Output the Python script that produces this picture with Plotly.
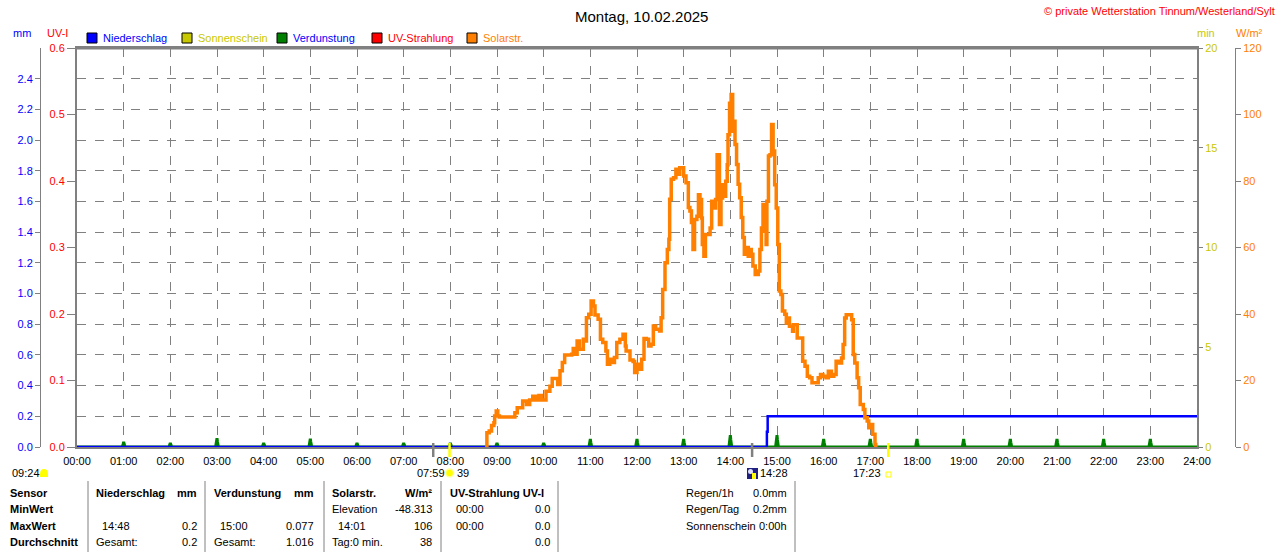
import plotly.graph_objects as go

# ---------------- data: Montag, 10.02.2025 ----------------
solar_time = ["08:46", "08:47", "08:50", "08:53", "08:56", "08:57", "08:59", "09:01", "09:03", "09:21",
              "09:23", "09:26", "09:31", "09:33", "09:38", "09:42", "09:46", "09:50", "09:54", "09:57",
              "10:01", "10:03", "10:08", "10:11", "10:15", "10:18", "10:21", "10:24", "10:27", "10:36",
              "10:38", "10:42", "10:43", "10:46", "10:51", "10:54", "10:55", "10:58", "11:01", "11:04",
              "11:06", "11:10", "11:13", "11:16", "11:20", "11:22", "11:25", "11:28", "11:31", "11:34",
              "11:38", "11:42", "11:45", "11:46", "11:51", "11:55", "11:57", "12:00", "12:03", "12:06",
              "12:09", "12:12", "12:15", "12:18", "12:21", "12:24", "12:29", "12:31", "12:33", "12:36",
              "12:39", "12:41", "12:42", "12:44", "12:47", "12:50", "12:53", "12:55", "12:58", "13:00",
              "13:03", "13:06", "13:08", "13:10", "13:12", "13:14", "13:17", "13:19", "13:21", "13:23",
              "13:24", "13:26", "13:28", "13:31", "13:34", "13:36", "13:39", "13:41", "13:43", "13:45",
              "13:46", "13:48", "13:50", "13:52", "13:54", "13:56", "13:57", "13:59", "14:01", "14:03",
              "14:04", "14:06", "14:08", "14:10", "14:12", "14:14", "14:16", "14:18", "14:21", "14:23",
              "14:25", "14:27", "14:29", "14:32", "14:36", "14:38", "14:40", "14:42", "14:44", "14:46",
              "14:47", "14:49", "14:51", "14:53", "14:55", "14:57", "14:59", "15:01", "15:03", "15:05",
              "15:07", "15:10", "15:12", "15:14", "15:16", "15:20", "15:21", "15:24", "15:26", "15:30",
              "15:33", "15:36", "15:39", "15:42", "15:45", "15:50", "15:53", "15:56", "15:59", "16:03",
              "16:06", "16:10", "16:13", "16:16", "16:20", "16:23", "16:25", "16:27", "16:29", "16:33",
              "16:36", "16:38", "16:40", "16:43", "16:45", "16:47", "16:51", "16:53", "16:56", "16:58",
              "17:01", "17:03", "17:06", "17:07"]
solar_wm2 = [0, 4.3, 4.8, 6.5, 7.3, 9.3, 10.8, 9.3, 9.0, 9.0,
             10.3, 11.8, 11.8, 13.8, 12.8, 14.1, 15.3, 14.1, 15.5, 14.1,
             14.1, 16.8, 18.3, 20.6, 20.6, 18.8, 22.9, 25.4, 27.7, 27.9,
             29.6, 27.9, 31.9, 29.4, 32.4, 31.9, 38.9, 39.9, 43.9, 42.4,
             39.7, 38.4, 32.4, 31.4, 28.9, 24.9, 26.4, 25.4, 26.9, 31.4,
             32.4, 33.9, 30.4, 28.9, 26.2, 25.7, 22.4, 24.9, 23.4, 26.4,
             32.6, 32.4, 30.4, 30.9, 36.4, 35.4, 34.9, 38.9, 47.4, 55.4,
             59.4, 62.5, 74.5, 80.5, 81.0, 83.5, 82.0, 84.0, 84.0, 81.5,
             79.5, 72.0, 71.0, 67.5, 59.4, 68.4, 69.4, 75.9, 74.4, 68.9,
             60.9, 57.4, 63.9, 63.9, 65.9, 73.9, 71.9, 74.4, 87.9, 87.9,
             66.9, 74.9, 78.9, 75.4, 79.9, 84.9, 93.9, 103.4, 106.0, 95.0,
             98.0, 91.0, 85.0, 79.0, 75.0, 69.0, 63.0, 58.0, 60.0, 57.4,
             59.4, 58.0, 54.4, 51.9, 52.9, 59.4, 65.9, 72.9, 64.9, 60.9,
             73.9, 87.5, 87.9, 97.0, 89.0, 78.9, 71.9, 60.9, 46.9, 45.9,
             40.9, 39.9, 37.3, 38.8, 36.3, 34.8, 36.8, 36.8, 32.8, 32.8,
             25.8, 24.3, 21.3, 20.8, 19.3, 19.3, 20.8, 21.8, 21.3, 20.8,
             22.8, 21.3, 21.8, 25.8, 25.3, 26.8, 30.8, 38.8, 39.8, 39.8,
             38.3, 27.8, 25.3, 20.8, 17.8, 12.8, 11.3, 8.8, 7.8, 5.8,
             6.8, 3.8, 0.75, 0]

rain_time = ["00:00", "14:46", "14:47", "14:48", "24:00"]
rain_mm = [0, 0, 0.1, 0.2, 0.2]

evap_time = ["01:00", "02:00", "03:00", "04:00", "05:00", "06:00", "07:00", "08:00", "09:00", "10:00",
             "11:00", "12:00", "13:00", "14:00", "15:00", "16:00", "17:00", "18:00", "19:00", "20:00",
             "21:00", "22:00", "23:00"]
evap_mm = [0.033, 0.026, 0.057, 0.026, 0.054, 0.026, 0.026, 0.026, 0.026, 0.026,
           0.052, 0.052, 0.052, 0.077, 0.077, 0.052, 0.052, 0.052, 0.052, 0.052,
           0.052, 0.052, 0.052]

uv_time = ["00:00", "24:00"]
uv_index = [0.0, 0.0]
sun_time = ["00:00", "24:00"]
sun_min = [0, 0]

hour_labels = ["00:00", "01:00", "02:00", "03:00", "04:00", "05:00", "06:00", "07:00", "08:00",
               "09:00", "10:00", "11:00", "12:00", "13:00", "14:00", "15:00", "16:00", "17:00",
               "18:00", "19:00", "20:00", "21:00", "22:00", "23:00", "24:00"]
mm_ticks = [0.0, 0.2, 0.4, 0.6, 0.8, 1.0, 1.2, 1.4, 1.6, 1.8, 2.0, 2.2, 2.4]

sunrise, sunset, daylength = "07:59", "17:23", "09:24"
moon_set, moon_rise = "07:38", "14:28"

# ---------------- helpers ----------------
W, H = 1280, 552
ML, MR, MT, MB = 20, 20, 48, 105
PW, PH = W - ML - MR, H - MT - MB
FONT = "Liberation Sans"
GRAY = "#808080"
BLUE, OLIVE, GREEN, RED, ORANGE = "#0000ff", "#c8c800", "#008000", "#ff0000", "#ff8000"


def hrs(t):
    h, m = t.split(":")
    return int(h) + int(m) / 60


def px(x):
    return (x - ML) / PW


def py(y):
    return (H - MB - y) / PH


def txt(x, y, s, color="black", size=11, anchor="left", bold=False):
    if bold:
        s = "<b>" + s + "</b>"
    return dict(x=px(x), y=py(y), xref="paper", yref="paper", text=s, showarrow=False,
                xanchor=anchor, yanchor="middle", font=dict(family=FONT, size=size, color=color))


fig = go.Figure()

# UV index (left red axis) and sunshine minutes (right olive axis): both zero all day
fig.add_trace(go.Scatter(x=[hrs(t) for t in uv_time], y=uv_index, yaxis="y", mode="lines",
                         line=dict(color=RED, width=2)))
fig.add_trace(go.Scatter(x=[hrs(t) for t in sun_time], y=sun_min, yaxis="y2", mode="lines",
                         line=dict(color=OLIVE, width=2)))

# evaporation: zero line with a short spike at every full hour
ex, ey = [0], [0]
for t, v in zip(evap_time, evap_mm):
    h = hrs(t)
    ex += [h - 0.03, h - 0.01, h, h + 0.01, h + 0.03]
    ey += [0, v * 0.6, v, v * 0.6, 0]
ex.append(24)
ey.append(0)
fig.add_trace(go.Scatter(x=ex, y=ey, yaxis="y3", mode="lines",
                         line=dict(color=GREEN, width=3)))

fig.add_trace(go.Scatter(x=[hrs(t) for t in rain_time], y=rain_mm, yaxis="y4", mode="lines",
                         line=dict(color=BLUE, width=2.5, shape="hv")))

fig.add_trace(go.Scatter(x=[hrs(t) for t in solar_time], y=solar_wm2, yaxis="y5", mode="lines",
                         line=dict(color=ORANGE, width=3.5, shape="hv")))

x0, x1 = px(77), px(1197)
tf = dict(family=FONT, size=11)

fig.update_layout(
    width=W, height=H, margin=dict(l=ML, r=MR, t=MT, b=MB, autoexpand=False),
    paper_bgcolor="white", plot_bgcolor="white", showlegend=False,
    font=dict(family=FONT, size=11, color="black"),
    xaxis=dict(domain=[x0, x1], range=[0, 24], tickvals=list(range(25)), ticktext=hour_labels,
               showgrid=True, gridcolor=GRAY, griddash="dash", gridwidth=1, zeroline=False,
               showline=True, mirror=True, linecolor=GRAY, linewidth=2, automargin=False,
               ticks="outside", ticklen=3, tickcolor="white", tickfont=dict(tf, color="black")),
    # UV-I (main axis, carries the frame)
    yaxis=dict(range=[0, 0.6], tickvals=[0, 0.1, 0.2, 0.3, 0.4, 0.5, 0.6], tickformat=".1f",
               showgrid=False, zeroline=False, showline=True, mirror=True, linecolor=GRAY,
               linewidth=2, ticks="outside", ticklen=8, tickcolor=GRAY, automargin=False,
               tickfont=dict(tf, color=RED)),
    # sunshine minutes
    yaxis2=dict(overlaying="y", anchor="x", side="right", range=[0, 20], tickvals=[0, 5, 10, 15, 20],
                showgrid=False, zeroline=False, showline=False, ticks="outside", ticklen=5,
                tickcolor=GRAY, automargin=False, tickfont=dict(tf, color=OLIVE)),
    # mm scale for the dashed grid
    yaxis3=dict(overlaying="y", anchor="x", side="left", range=[0, 2.6], tickvals=mm_ticks,
                showgrid=True, gridcolor=GRAY, griddash="dash", gridwidth=1, zeroline=False,
                showline=False, showticklabels=False, ticks="", automargin=False),
    # mm labels on the far left
    yaxis4=dict(overlaying="y", anchor="free", position=px(40), side="left", range=[0, 2.6],
                tickvals=mm_ticks, tickformat=".1f", showgrid=False, zeroline=False,
                showline=True, linecolor=GRAY, linewidth=1, ticks="outside", ticklen=5,
                tickcolor=GRAY, automargin=False, tickfont=dict(tf, color=BLUE)),
    # W/m² on the far right
    yaxis5=dict(overlaying="y", anchor="free", position=px(1235), side="right", range=[0, 120],
                tickvals=[0, 20, 40, 60, 80, 100, 120], showgrid=False, zeroline=False,
                showline=True, linecolor=GRAY, linewidth=1, ticks="outside", ticklen=5,
                tickcolor=GRAY, automargin=False, tickfont=dict(tf, color=ORANGE)),
)

ann = [
    txt(641, 16, "Montag, 10.02.2025", size=15, anchor="center"),
    txt(1277, 11, "© private Wetterstation Tinnum/Westerland/Sylt", color=RED, anchor="right"),
    txt(22, 33, "mm", color=BLUE, anchor="center"),
    txt(57, 33, "UV-I", color=RED, anchor="center"),
    txt(1206, 33, "min", color=OLIVE, anchor="center"),
    txt(1249, 33, "W/m²", color=ORANGE, anchor="center"),
]
shapes = [
    # heavier top edge of the frame, as in the original
    dict(type="line", xref="paper", yref="paper", x0=x0, x1=x1, y0=1, y1=1,
         line=dict(color=GRAY, width=3)),
]

legend = [("Niederschlag", BLUE, BLUE, 87), ("Sonnenschein", OLIVE, OLIVE, 182),
          ("Verdunstung", GREEN, BLUE, 277), ("UV-Strahlung", RED, RED, 372),
          ("Solarstr.", ORANGE, ORANGE, 467)]
for name, fill, tcol, x in legend:
    shapes.append(dict(type="rect", xref="paper", yref="paper", x0=px(x), x1=px(x + 10),
                       y0=py(43), y1=py(33), fillcolor=fill, line=dict(color="black", width=1)))
    ann.append(txt(x + 14, 38, name, color=tcol))

# sun / moon markers below the time axis
for t, col in [(moon_set, GRAY), (moon_rise, GRAY), (sunrise, "#ffff00"), (sunset, "#ffff00")]:
    shapes.append(dict(type="line", xref="x", yref="paper", x0=hrs(t), x1=hrs(t),
                       y0=py(443), y1=py(457), line=dict(color=col, width=2.5)))

sx = 77 + hrs(sunrise) * 1120 / 24
ann += [
    txt(10, 473, daylength),
    txt(sx - 3, 473, sunrise, anchor="right"),
    txt(sx + 5, 473, "39"),
    txt(77 + hrs(moon_rise) * 1120 / 24 + 6, 473, moon_rise),
    txt(77 + hrs(sunset) * 1120 / 24 - 5, 473, sunset, anchor="right"),
]
shapes += [
    dict(type="path", xref="paper", yref="paper", fillcolor="#ffff00", line=dict(width=0),
         path=(f"M {px(40)},{py(477)} L {px(40)},{py(474)} Q {px(40)},{py(469)} {px(44)},{py(469)} "
               f"Q {px(48)},{py(469)} {px(48)},{py(474)} L {px(48)},{py(477)} Z")),
    dict(type="circle", xref="paper", yref="paper", x0=px(sx - 4), x1=px(sx + 4), y0=py(477),
         y1=py(469), fillcolor="#ffff00", line=dict(color="#ffff99", width=1.5)),
    dict(type="rect", xref="paper", yref="paper", x0=px(747), x1=px(758), y0=py(479), y1=py(468),
         fillcolor="#202080", line=dict(width=0)),
    dict(type="circle", xref="paper", yref="paper", x0=px(748), x1=px(753), y0=py(474), y1=py(469),
         fillcolor="#e0e0ff", line=dict(width=0)),
    dict(type="rect", xref="paper", yref="paper", x0=px(752), x1=px(756), y0=py(479), y1=py(473),
         fillcolor="#ffff00", line=dict(width=0)),
    dict(type="rect", xref="paper", yref="paper", x0=px(886), x1=px(891), y0=py(477), y1=py(472),
         fillcolor="white", line=dict(color="#ffff00", width=1)),
]

# summary table
for x in [88, 205, 324, 441, 558, 795]:
    shapes.append(dict(type="line", xref="paper", yref="paper", x0=px(x), x1=px(x),
                       y0=py(481), y1=py(552), line=dict(color=GRAY, width=1)))

rows = [493, 509, 526, 542]
ann += [txt(8, rows[0], "Sensor", bold=True), txt(8, rows[1], "MinWert", bold=True),
        txt(8, rows[2], "MaxWert", bold=True), txt(8, rows[3], "Durchschnitt", bold=True)]
table = [
    # (left text, right text, row, left x, right x, bold)
    ("Niederschlag", "mm", 0, 94, 199, True), ("14:48", "0.2", 2, 100, 199, False),
    ("Gesamt:", "0.2", 3, 94, 199, False),
    ("Verdunstung", "mm", 0, 212, 316, True), ("15:00", "0.077", 2, 218, 316, False),
    ("Gesamt:", "1.016", 3, 212, 316, False),
    ("Solarstr.", "W/m²", 0, 330, 434, True), ("Elevation", "-48.313", 1, 330, 434, False),
    ("14:01", "106", 2, 336, 434, False), ("Tag:0 min.", "38", 3, 330, 434, False),
    ("UV-Strahlung UV-I", "", 0, 448, 552, True), ("00:00", "0.0", 1, 454, 552, False),
    ("00:00", "0.0", 2, 454, 552, False), ("", "0.0", 3, 454, 552, False),
    ("Regen/1h", "0.0mm", 0, 684, 789, False), ("Regen/Tag", "0.2mm", 1, 684, 789, False),
    ("Sonnenschein", "0:00h", 2, 684, 789, False),
]
for lt, rt, r, lx, rx, b in table:
    if lt:
        ann.append(txt(lx, rows[r], lt, bold=b))
    if rt:
        ann.append(txt(rx, rows[r], rt, anchor="right", bold=b))

fig.update_layout(annotations=ann, shapes=shapes)
# the page's default body margin would push the figure 8 px off the window
fig.write_html("out.html", config={"displayModeBar": False},
               post_script="document.body.style.margin='0px';")
